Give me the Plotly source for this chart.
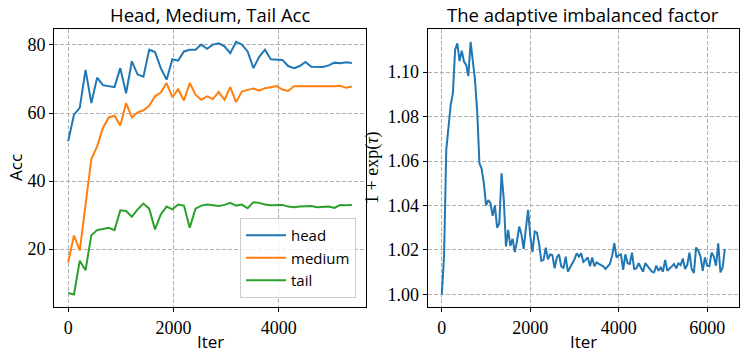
import plotly.graph_objects as go

# Left panel: accuracy of each split vs iteration
ACC_ITERS = [0, 110, 220, 330, 440, 550, 660, 770, 880, 990,
             1100, 1210, 1320, 1430, 1540, 1650, 1760, 1870, 1980, 2090,
             2200, 2310, 2420, 2530, 2640, 2750, 2860, 2970, 3080, 3190,
             3300, 3410, 3520, 3630, 3740, 3850, 3960, 4070, 4180, 4290,
             4400, 4510, 4620, 4730, 4840, 4950, 5060, 5170, 5280, 5390]

HEAD = [51.7, 59.5, 61.5, 72.7, 62.9, 70.4, 68.2, 68.0, 67.6, 73.2,
        65.8, 75.2, 71.3, 70.7, 78.6, 77.9, 73.2, 69.8, 75.8, 75.4,
        78.1, 78.6, 78.6, 80.1, 78.9, 80.1, 80.5, 79.6, 77.6, 80.9,
        80.1, 78.1, 73.2, 76.5, 78.6, 75.8, 75.6, 75.6, 73.8, 73.2,
        73.8, 75.0, 73.6, 73.5, 73.5, 74.0, 74.8, 74.6, 74.9, 74.7]

MEDIUM = [16.1, 24.0, 19.6, 33.0, 46.5, 50.2, 55.6, 58.7, 59.2, 56.3,
          62.9, 58.7, 60.2, 60.8, 62.1, 64.9, 66.0, 68.8, 64.7, 67.0,
          63.7, 68.8, 65.4, 63.9, 64.9, 64.1, 66.2, 63.9, 67.6, 63.2,
          66.3, 66.8, 67.2, 66.6, 67.3, 67.6, 67.9, 66.9, 66.5, 67.9,
          67.9, 67.8, 67.9, 67.8, 67.7, 67.8, 67.9, 68.0, 67.4, 67.8]

TAIL = [7.1, 6.7, 16.6, 13.8, 24.1, 25.6, 25.9, 26.3, 25.6, 31.4,
        31.2, 29.5, 31.7, 33.4, 31.9, 25.8, 30.2, 32.5, 31.7, 33.1,
        32.8, 26.3, 31.9, 32.8, 33.1, 32.8, 32.7, 33.0, 33.6, 32.8,
        33.1, 32.0, 33.8, 33.6, 33.1, 32.9, 33.0, 33.0, 32.5, 32.3,
        32.5, 32.5, 32.7, 32.3, 32.5, 32.5, 32.1, 33.0, 32.9, 33.0]

# Right panel: adaptive imbalanced factor 1 + exp(tau)
TAU_ITERS = [0, 50, 100, 150, 200, 250, 300, 350, 400, 450,
             500, 550, 600, 650, 700, 750, 800, 850, 900, 950,
             1000, 1050, 1100, 1150, 1200, 1250, 1300, 1350, 1400, 1450,
             1500, 1550, 1600, 1650, 1700, 1750, 1800, 1850, 1900, 1950,
             2000, 2050, 2100, 2150, 2200, 2250, 2300, 2350, 2400, 2450,
             2500, 2550, 2600, 2650, 2700, 2750, 2800, 2850, 2900, 2950,
             3000, 3050, 3100, 3150, 3200, 3250, 3300, 3350, 3400, 3450,
             3500, 3550, 3600, 3650, 3700, 3750, 3800, 3850, 3900, 3950,
             4000, 4050, 4100, 4150, 4200, 4250, 4300, 4350, 4400, 4450,
             4500, 4550, 4600, 4650, 4700, 4750, 4800, 4850, 4900, 4950,
             5000, 5050, 5100, 5150, 5200, 5250, 5300, 5350, 5400, 5450,
             5500, 5550, 5600, 5650, 5700, 5750, 5800, 5850, 5900, 5950,
             6000, 6050, 6100, 6150, 6200, 6250, 6300, 6350, 6400]

FACTOR = [1.000, 1.0175, 1.065, 1.074, 1.0853, 1.0906, 1.110, 1.113, 1.105, 1.1097,
          1.1048, 1.1033, 1.0983, 1.1136, 1.1055, 1.0965, 1.082, 1.059, 1.0565, 1.050,
          1.040, 1.0424, 1.041, 1.0353, 1.040, 1.030, 1.032, 1.0545, 1.043, 1.0215,
          1.029, 1.0218, 1.025, 1.019, 1.024, 1.0305, 1.027, 1.0205, 1.0295, 1.038,
          1.0262, 1.019, 1.0283, 1.0278, 1.0226, 1.0151, 1.0155, 1.021, 1.0158, 1.018,
          1.0176, 1.0117, 1.0166, 1.018, 1.0126, 1.0117, 1.017, 1.0102, 1.0121, 1.014,
          1.0158, 1.0185, 1.017, 1.0185, 1.0146, 1.0155, 1.0166, 1.0126, 1.0166, 1.0126,
          1.0144, 1.0137, 1.0132, 1.0126, 1.0114, 1.0126, 1.0137, 1.0173, 1.023, 1.0166,
          1.0176, 1.018, 1.011, 1.018, 1.014, 1.0137, 1.0188, 1.0114, 1.0117, 1.014,
          1.0117, 1.0102, 1.014, 1.0126, 1.0114, 1.0102, 1.0099, 1.0129, 1.0106, 1.0121,
          1.0102, 1.0155, 1.0106, 1.0114, 1.0126, 1.0137, 1.0117, 1.014, 1.0132, 1.0161,
          1.0114, 1.0132, 1.0188, 1.0114, 1.0096, 1.0211, 1.0196, 1.017, 1.0106, 1.0166,
          1.0129, 1.0126, 1.0188, 1.017, 1.0129, 1.023, 1.0099, 1.0121, 1.0205]

SANS = 'Open Sans'
SERIF = 'Liberation Serif'
W, H = 747, 360

fig = go.Figure()

for name, vals, color in [('head', HEAD, '#1f77b4'),
                          ('medium', MEDIUM, '#ff7f0e'),
                          ('tail', TAIL, '#2ca02c')]:
    fig.add_trace(go.Scatter(x=ACC_ITERS, y=vals, mode='lines', name=name,
                             line=dict(color=color, width=2),
                             xaxis='x', yaxis='y'))

fig.add_trace(go.Scatter(x=TAU_ITERS, y=FACTOR, mode='lines', showlegend=False,
                         line=dict(color='#1f77b4', width=2),
                         xaxis='x2', yaxis='y2'))

axis_style = dict(
    showline=True, mirror=True, linecolor='black', linewidth=1,
    ticks='outside', ticklen=4, tickwidth=1, tickcolor='black',
    showgrid=True, gridcolor='#b0b0b0', gridwidth=0.8, griddash='4px,2px',
    zeroline=False,
    tickfont=dict(family=SERIF, size=18, color='black'),
)

y_dom = [53 / H, 330.7 / H]
left_dom = [54 / W, 366 / W]
right_dom = [427.7 / W, 739 / W]


def label(text, x, y, size=18, family=SANS, angle=0):
    return dict(text=text, x=x, y=y, xref='paper', yref='paper',
                xanchor='center', yanchor='middle', textangle=angle,
                showarrow=False, font=dict(family=family, size=size, color='black'))


fig.update_layout(
    width=W, height=H,
    paper_bgcolor='white', plot_bgcolor='white',
    font=dict(family=SERIF, size=18, color='black'),
    margin=dict(l=0, r=0, t=0, b=0),
    xaxis=dict(axis_style, domain=left_dom, range=[-269.5, 5659.5],
               tickvals=[0, 2000, 4000], anchor='y'),
    yaxis=dict(axis_style, domain=y_dom, range=[3.0, 84.6],
               tickvals=[20, 40, 60, 80], anchor='x'),
    xaxis2=dict(axis_style, domain=right_dom, range=[-320, 6720],
                tickvals=[0, 2000, 4000, 6000], anchor='y2'),
    yaxis2=dict(axis_style, domain=y_dom, range=[0.9943, 1.1193],
                tickvals=[1.00, 1.02, 1.04, 1.06, 1.08, 1.10], tickformat='.2f',
                anchor='x2'),
    legend=dict(x=356 / W, y=62 / H, xanchor='right', yanchor='bottom',
                bgcolor='rgba(255,255,255,0.8)', bordercolor='#cccccc', borderwidth=1,
                font=dict(family=SANS, size=15, color='black'),
                itemwidth=40),
    annotations=[
        label('Head, Medium, Tail Acc', 210 / W, 1 - 15 / H, size=18.5),
        label('The adaptive imbalanced factor', 583.4 / W, 1 - 15 / H, size=18.5),
        label('Iter', 210 / W, 1 - 341 / H, size=17),
        label('Iter', 583.4 / W, 1 - 341 / H, size=17),
        label('Acc', 15 / W, 1 - 168 / H, size=17, angle=-90),
        label('1 + exp(<i>τ</i>)', 372 / W, 1 - 168 / H, size=18,
              family=SERIF, angle=-90),
    ],
)

# the page body has a default 8px margin; drop it so the figure sits at 0,0
fig.write_html('out.html', config={'displayModeBar': False},
               post_script="document.body.style.margin='0';")
